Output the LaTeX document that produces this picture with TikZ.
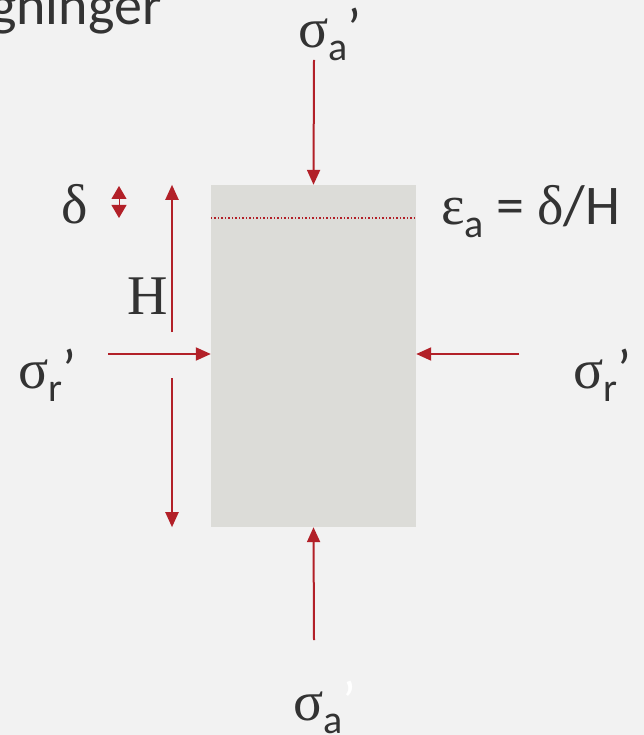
\documentclass[tikz,border=0pt]{standalone}
\usepackage{fontspec}
\setmainfont{Carlito}
\newfontfamily\grk{Liberation Serif}
\usetikzlibrary{arrows.meta,positioning,calc}
\definecolor{bg}{HTML}{F2F2F2}
\definecolor{soil}{HTML}{DCDCD8}
\definecolor{load}{HTML}{B22028}
\definecolor{ink}{HTML}{333333}
\newcommand{\sub}[1]{\raisebox{-13pt}{\fontsize{40}{42}\selectfont #1}}
\begin{document}
\begin{tikzpicture}[
    x=1pt, y=-1pt,
    sample/.style={rectangle, fill=soil, minimum width=205pt, minimum height=342pt, inner sep=0pt},
    lbl/.style={text=ink, font=\fontsize{56}{60}\selectfont, inner sep=0pt},
    arrow/.style={-{Triangle[length=15pt,width=13pt]}, load, line width=2pt},
    tick/.style={{Triangle[length=13pt,width=15pt]}-{Triangle[length=13pt,width=15pt]}, load, line width=1pt}
]
    \fill[bg] (0,0) rectangle (644,735);
    \useasboundingbox (0,0) rectangle (644,735);

    \node[lbl, anchor=base west] (title) at (-10,25) {gninger};

    \node[sample] (prov) at (313.5,356) {};
    \draw[load, dotted, line width=1.5pt] ($(prov.north west)+(0,33)$) coordinate (epsL) -- ($(prov.north east)+(0,33)$) coordinate (epsR);

    % axial load
    \coordinate (topstart) at (314,60);
    \coordinate (botstart) at (314,640);
    \draw[arrow] (topstart) -- (prov.north);
    \draw[arrow] (botstart) -- (prov.south);
    \node[lbl, anchor=base west] (sigatop) at (298,48) {{\grk σ}\sub{a}’};
    \node[lbl, anchor=base west] (sigabot) at (293,720) {{\grk σ}\sub{a}\textcolor{white}{’}};

    % radial load
    \coordinate (leftstart) at (108,354);
    \coordinate (rightstart) at (519,354);
    \draw[arrow] (leftstart) -- (prov.west |- leftstart);
    \draw[arrow] (rightstart) -- (prov.east |- rightstart);
    \node[lbl, anchor=base west] (sigrleft) at (18,388) {{\grk σ}\sub{r}’};
    \node[lbl, anchor=base west] (sigrright) at (573,388) {{\grk σ}\sub{r}’};

    % height
    \coordinate (hup) at (172,332);
    \coordinate (hdown) at (172,378);
    \draw[arrow] (hup) -- (hup |- prov.north);
    \draw[arrow] (hdown) -- (hdown |- prov.south);
    \node[lbl, anchor=base] (hlabel) at (148,314) {\grk H};

    % settlement
    \node[lbl, anchor=base] (delta) at (75,223) {\grk δ};
    \coordinate (dtop) at (119,186);
    \coordinate (dbot) at (119,218);
    \draw[tick] (dtop) -- (dbot);
    \node[lbl, anchor=base west] (strain) at (441,225) {{\grk ε}\sub{a} = {\grk δ}/H};
\end{tikzpicture}
\end{document}
